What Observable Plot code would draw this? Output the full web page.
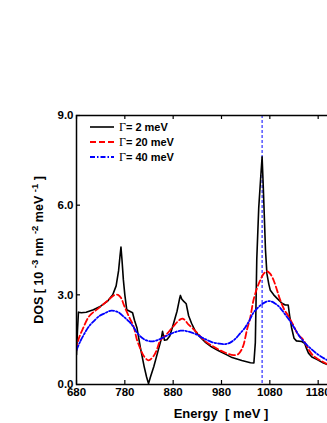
<!DOCTYPE html>
<html><head><meta charset="utf-8">
<script src="https://cdn.jsdelivr.net/npm/d3@7"></script>
<script src="https://cdn.jsdelivr.net/npm/@observablehq/plot@0.6"></script>
<style>
html,body{margin:0;padding:0;overflow:hidden;background:#fff;width:327px;height:423px}
#chart{position:relative;width:400px;height:423px}
</style></head><body><div id="chart"></div>
<script>
// Γ = 2 meV (black, solid)
const gamma2 = [[680,1.0],[682,1.8],[684,2.42],[690,2.40],[700,2.42],[715,2.50],[730,2.62],[745,2.80],[755,3.0],[762,3.3],[767,3.8],[770,4.3],[772,4.6],[774,4.2],[777,3.5],[780,3.0],[784,2.5],[790,2.45],[796,2.40],[800,2.15],[805,1.9],[812,1.25],[820,0.6],[825,0.25],[829,0.03],[833,0.25],[840,0.6],[850,1.2],[855,1.5],[858,1.78],[862,1.48],[867,1.5],[873,1.62],[880,2.0],[888,2.45],[893,2.85],[895,2.98],[898,2.85],[902,2.78],[907,2.7],[912,2.3],[918,2.05],[926,1.78],[935,1.6],[946,1.42],[960,1.25],[974,1.13],[990,1.0],[1002,0.90],[1022,0.80],[1040,0.73],[1047,0.72],[1050,1.4],[1053,4.2],[1057,5.9],[1061,6.9],[1064,7.62],[1066,6.8],[1068,5.9],[1071,4.5],[1074,3.7],[1078,3.35],[1081,3.15],[1088,3.0],[1095,2.88],[1105,2.72],[1112,2.66],[1118,2.66],[1121,2.3],[1125,1.9],[1130,1.55],[1135,1.46],[1146,1.44],[1152,1.38],[1156,1.2],[1160,1.05],[1167,0.92],[1177,0.84],[1190,0.73],[1200,0.66],[1215,0.58],[1230,0.52]];
// Γ = 20 meV (red, dashed)
const gamma20 = [[680,1.15],[684,1.5],[693,1.86],[707,2.3],[724,2.53],[745,2.81],[759,3.0],[766,3.0],[772,2.9],[779,2.62],[790,2.22],[798,1.95],[805,1.5],[812,1.2],[819,0.96],[829,0.81],[840,0.96],[847,1.2],[853,1.46],[867,1.69],[880,1.94],[894,2.17],[900,2.2],[905,2.14],[912,2.0],[919,1.9],[933,1.67],[946,1.45],[960,1.30],[974,1.17],[987,1.07],[1005,0.98],[1015,1.02],[1021,1.15],[1026,1.35],[1033,1.85],[1039,2.2],[1046,2.81],[1053,3.2],[1060,3.48],[1067,3.7],[1074,3.79],[1081,3.7],[1088,3.48],[1095,3.15],[1101,2.85],[1110,2.5],[1118,2.3],[1129,1.97],[1138,1.68],[1149,1.5],[1156,1.3],[1163,1.1],[1170,0.96],[1177,0.88],[1198,0.69],[1215,0.6],[1230,0.53]];
// Γ = 40 meV (blue, dash-dot)
const gamma40 = [[680,1.15],[688,1.45],[696,1.69],[706,1.95],[717,2.14],[728,2.3],[738,2.38],[752,2.47],[766,2.42],[779,2.25],[789,2.1],[796,1.97],[805,1.74],[819,1.52],[836,1.44],[853,1.52],[874,1.69],[895,1.80],[909,1.78],[926,1.69],[946,1.52],[960,1.42],[974,1.37],[988,1.35],[998,1.4],[1008,1.52],[1018,1.7],[1029,1.91],[1039,2.18],[1046,2.40],[1060,2.64],[1070,2.75],[1080,2.79],[1090,2.72],[1100,2.59],[1110,2.38],[1121,2.14],[1132,1.86],[1142,1.6],[1152,1.4],[1162,1.24],[1178,1.02],[1198,0.82],[1215,0.68],[1230,0.6]];

const seriesNames = ["Γ= 2 meV", "Γ= 20 meV", "Γ= 40 meV"];
const seriesColors = ["#000000", "#ff0000", "#0000ff"];
const seriesDash = [null, "6,3", "5,2,1.5,2"];
const seriesWidth = [1.6, 1.8, 1.8];
const xTicks = [680, 780, 880, 980, 1080, 1180, 1280];
const yTicks = [0, 3, 6, 9];
const markerEnergy = [1064];

const allSeries = [gamma2, gamma20, gamma40];
const rows = allSeries.flatMap((s, i) => s.map(([e, v]) => ({series: seriesNames[i], energy: e, dos: v})));

const W = 400, H = 423, mL = 76, mR = 34, mT = 115, mB = 39;
const plotH = H - mT - mB, plotW = W - mL - mR;
const font = "'Liberation Sans', Arial, sans-serif";

const lineMarks = seriesNames.map((name, i) =>
  Plot.line(rows.filter(r => r.series === name), {
    x: "energy", y: "dos", stroke: seriesColors[i], strokeWidth: seriesWidth[i],
    strokeDasharray: seriesDash[i], curve: i === 0 ? "linear" : "catmull-rom", clip: true
  })
);

const chart = Plot.plot({
  width: W, height: H, marginLeft: mL, marginRight: mR, marginTop: mT, marginBottom: mB,
  style: {fontFamily: font, background: "white", overflow: "visible"},
  x: {domain: [680, 1280]},
  y: {domain: [0, 9]},
  marks: [
    Plot.ruleX(markerEnergy, {stroke: "#0000ff", strokeWidth: 1, strokeDasharray: "3,2"}),
    ...lineMarks,
    Plot.tickX(xTicks, {x: d => d, stroke: "black", strokeWidth: 1.2, insetTop: plotH - 4}),
    Plot.tickX(xTicks, {x: d => d, stroke: "black", strokeWidth: 1.2, insetBottom: plotH - 4}),
    Plot.tickY(yTicks, {y: d => d, stroke: "black", strokeWidth: 1.2, insetRight: plotW - 4}),
    Plot.axisX({ticks: xTicks, tickSize: 0, tickPadding: 3, tickFormat: d => String(d), label: null,
      fontSize: 11.5, fontWeight: "bold", fill: "black"}),
    Plot.axisY({ticks: yTicks, tickSize: 0, tickPadding: 3, tickFormat: d3.format(".1f"), label: null,
      fontSize: 11.5, fontWeight: "bold", fill: "black"}),
    Plot.frame({stroke: "black", strokeWidth: 1.5})
  ]
});
document.getElementById("chart").appendChild(chart);

const svg = d3.select(chart);
// legend
const lg = svg.append("g").attr("font-family", font).attr("text-anchor", "start");
seriesNames.forEach((name, i) => {
  const y = 127 + i * 15;
  lg.append("line").attr("x1", 90).attr("x2", 114).attr("y1", y).attr("y2", y)
    .attr("stroke", seriesColors[i]).attr("stroke-width", seriesWidth[i])
    .attr("stroke-dasharray", seriesDash[i]);
  const t = lg.append("text").attr("x", 119).attr("y", y + 4).attr("text-anchor", "start")
    .attr("font-size", 11).attr("font-weight", "bold");
  t.append("tspan").attr("font-family", "'Liberation Serif', 'Times New Roman', serif").attr("font-weight", "normal").attr("font-size", 12).text(name.slice(0, 1));
  t.append("tspan").text(name.slice(1));
});
// x label
svg.append("text").attr("x", 221).attr("y", 418).attr("text-anchor", "middle")
  .attr("font-family", font).attr("font-size", 13).attr("font-weight", "bold")
  .style("white-space", "pre").text("Energy  [ meV ]");
// y label
const yl = svg.append("text").attr("transform", "translate(43,250) rotate(-90)")
  .attr("text-anchor", "middle").attr("font-family", font).attr("font-size", 12.5).attr("font-weight", "bold");
const parts = [["DOS [ 10 ", 0], ["-3", 1], [" nm ", 0], ["-2", 1], [" meV ", 0], ["-1", 1], [" ]", 0]];
parts.forEach(([s, sup], i) => {
  const prevSup = i > 0 ? parts[i - 1][1] : 0;
  const ts = yl.append("tspan").text(s).style("white-space", "pre")
    .attr("dy", sup ? -5 : (prevSup ? 5 : 0));
  if (sup) ts.attr("font-size", 9.5);
});
</script></body></html>
